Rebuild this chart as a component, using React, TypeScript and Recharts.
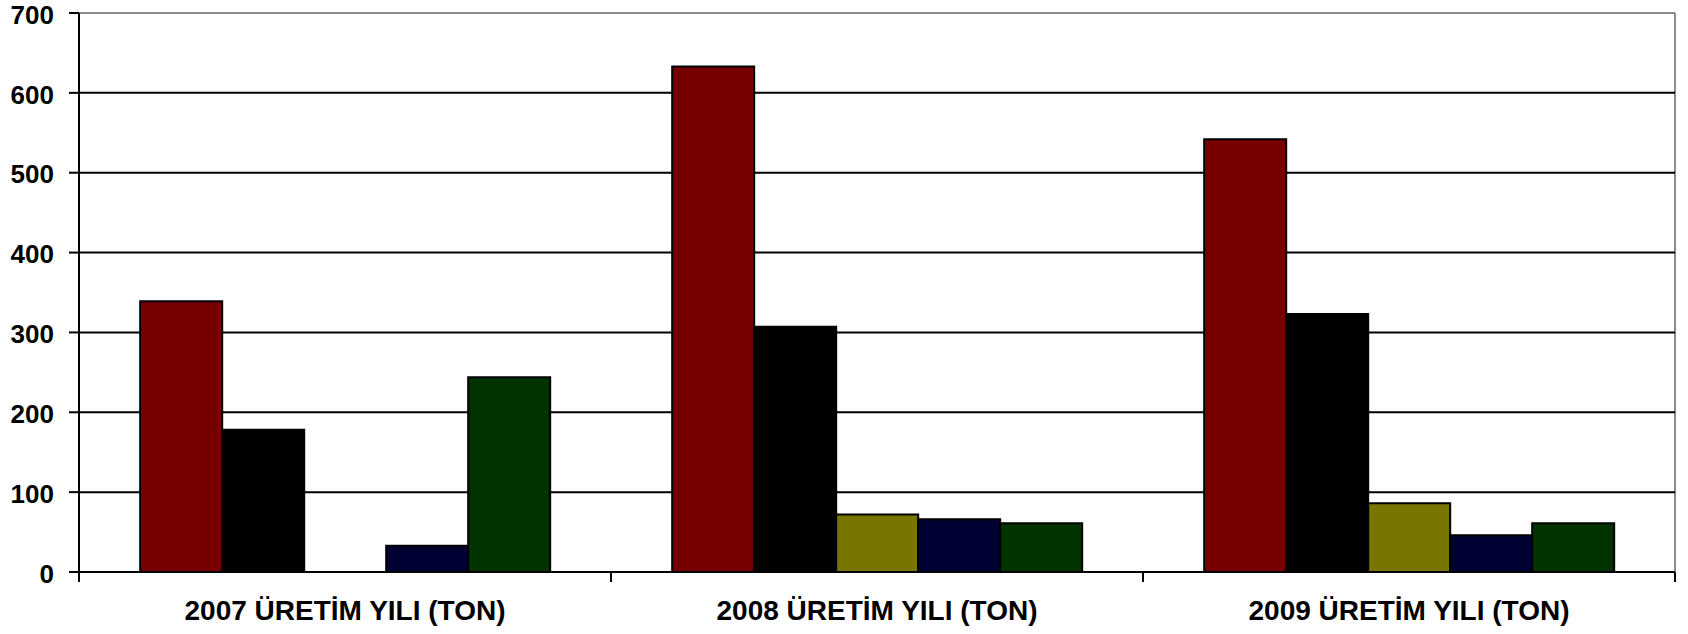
import React from 'react';
import { BarChart, Bar, XAxis, YAxis, CartesianGrid } from 'recharts';

const categories = ['2007 ÜRETİM YILI (TON)', '2008 ÜRETİM YILI (TON)', '2009 ÜRETİM YILI (TON)'];
const seriesRed = [339, 633, 542];
const seriesBlack = [178, 307, 323];
const seriesOlive = [null, 72, 86];
const seriesNavy = [33, 66, 46];
const seriesGreen = [244, 61, 61];
const yTicks = [0, 100, 200, 300, 400, 500, 600, 700];
const gridValues = [100, 200, 300, 400, 500, 600];

const data = categories.map((name, i) => ({
  name,
  red: seriesRed[i],
  black: seriesBlack[i],
  olive: seriesOlive[i],
  navy: seriesNavy[i],
  green: seriesGreen[i],
}));

const FONT = '"Liberation Sans", Arial, Helvetica, sans-serif';
const W = 1688;
const H = 634;
const MARGIN = { top: 13, right: 13, bottom: 0, left: 0 };
const Y_W = 79;
const X_H = 62;
const CAT_TICK_MARGIN = 28;

function CatTick(props: any) {
  const { x, y, payload, index, visibleTicksCount } = props;
  const fallbackHalf = (W - MARGIN.left - MARGIN.right - Y_W) / categories.length / 2;
  const half = payload && typeof payload.offset === 'number' && payload.offset > 0 ? payload.offset : fallbackHalf;
  const axisY = y - CAT_TICK_MARGIN;
  const isLast = index === (visibleTicksCount ?? categories.length) - 1;
  return (
    <g>
      <line x1={x - half} x2={x - half} y1={axisY} y2={axisY + 10} stroke="#000" strokeWidth={2} />
      {isLast && <line x1={x + half} x2={x + half} y1={axisY} y2={axisY + 10} stroke="#000" strokeWidth={2} />}
      <text
        x={x}
        y={y}
        dy="0.71em"
        textAnchor="middle"
        fill="#000"
        fontSize={28}
        fontWeight="bold"
        fontFamily={FONT}
      >
        {payload.value}
      </text>
    </g>
  );
}

function ValTick(props: any) {
  const { x, y, payload } = props;
  return (
    <text
      x={x}
      y={y + 1.5}
      dy="0.355em"
      textAnchor="end"
      fill="#000"
      fontSize={26}
      fontWeight="bold"
      fontFamily={FONT}
    >
      {payload.value}
    </text>
  );
}

export default function App() {
  return (
    <div style={{ position: 'absolute', left: 0, top: 0, width: W, height: H, background: '#fff' }}>
      <BarChart
        width={W}
        height={H}
        data={data}
        margin={MARGIN}
        barCategoryGap="11.5%"
        barGap={0}
      >
        <CartesianGrid
          horizontalCoordinatesGenerator={(p: any) => [p && p.offset ? p.offset.top : MARGIN.top]}
          verticalCoordinatesGenerator={(p: any) => [p && p.offset ? p.offset.left + p.offset.width : W - MARGIN.right]}
          stroke="#8c8c8c"
          strokeWidth={2}
        />
        <CartesianGrid vertical={false} horizontalValues={gridValues} stroke="#000" strokeWidth={2} />
        <XAxis
          dataKey="name"
          height={X_H}
          tickSize={0}
          tickMargin={CAT_TICK_MARGIN}
          tickLine={false}
          axisLine={{ stroke: '#000', strokeWidth: 2 }}
          tick={<CatTick />}
          interval={0}
        />
        <YAxis
          domain={[0, 700]}
          ticks={yTicks}
          width={Y_W}
          tickSize={10}
          tickMargin={15}
          interval={0}
          axisLine={{ stroke: '#000', strokeWidth: 2 }}
          tickLine={{ stroke: '#000', strokeWidth: 2 }}
          tick={<ValTick />}
        />
        <Bar dataKey="red" fill="#760000" stroke="#000" strokeWidth={2} isAnimationActive={false} />
        <Bar dataKey="black" fill="#000000" stroke="#000" strokeWidth={2} isAnimationActive={false} />
        <Bar dataKey="olive" fill="#777700" stroke="#000" strokeWidth={2} isAnimationActive={false} />
        <Bar dataKey="navy" fill="#000033" stroke="#000" strokeWidth={2} isAnimationActive={false} />
        <Bar dataKey="green" fill="#003300" stroke="#000" strokeWidth={2} isAnimationActive={false} />
      </BarChart>
    </div>
  );
}
